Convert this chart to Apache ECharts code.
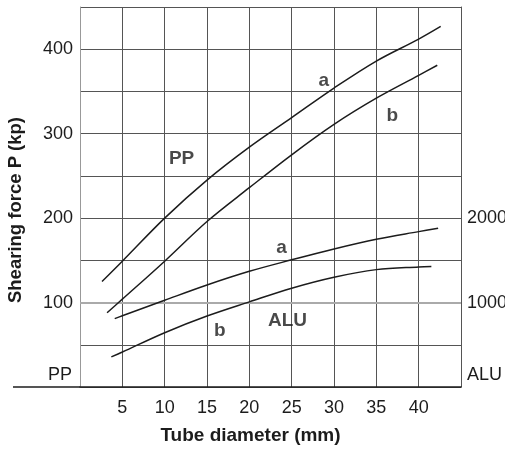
<!DOCTYPE html>
<html><head><meta charset="utf-8">
<script src="https://cdn.jsdelivr.net/npm/echarts@6/dist/echarts.min.js"></script>
<style>html,body{margin:0;padding:0;background:#fff}#c{width:505px;height:453px}</style>
</head><body><div id="c"></div>
<script>
// Data (x = tube diameter mm, y = shearing force)
var ppA = [[2.6,125],[5,149],[10,200],[15,245],[20,284],[25,319],[30,354],[35,386],[40,412],[42.6,427]];
var ppB = [[3.2,88],[5,104],[10,149],[15,196],[20,236],[25,275],[30,311],[35,342],[40,369],[42.2,381]];
var aluA = [[4.1,810],[5,843],[10,1027],[15,1208],[20,1370],[25,1506],[30,1635],[35,1750],[40,1840],[42.3,1880]];
var aluB = [[3.7,356],[5,414],[10,643],[15,840],[20,1008],[25,1170],[30,1300],[35,1390],[40,1422],[41.5,1427]];
var xTicks = [5,10,15,20,25,30,35,40];
var leftTicks = [100,200,300,400];
var rightTicks = [1000,2000];
var annotText = ['PP','a','b','a','b','ALU'];
var annotX = [12.0,28.8,36.9,23.8,16.5,24.5];
var annotY = [270,363,321,165,67,79];

var FN = "'Liberation Sans',Arial,Helvetica,sans-serif";
var TXT = '#1c1c1c';
var chart = echarts.init(document.getElementById('c'), null, {renderer:'canvas'});
function lineSeries(data, yIdx, extra) {
  var s = {type:'line', data:data, yAxisIndex:yIdx, smooth:0.35, showSymbol:false, silent:true,
    lineStyle:{color:'#1c1c1c', width:1.5}, z:5};
  if (extra) for (var k in extra) s[k] = extra[k];
  return s;
}
var annot = annotText.map(function(t,i){ return {name:t, value:[annotX[i], annotY[i]]}; });
chart.setOption({
  animation:false,
  grid:{left:80, right:44, top:7, bottom:66, outerBoundsMode:'none', containLabel:false},
  xAxis:{type:'value', min:0, max:45, interval:5,
    name:'Tube diameter (mm)', nameLocation:'middle', nameGap:39,
    nameTextStyle:{fontFamily:FN, fontWeight:'bold', fontSize:19, color:TXT, padding:[0,40,0,0]},
    axisLine:{show:true, lineStyle:{color:'#1c1c1c', width:1.5}},
    axisTick:{show:false},
    axisLabel:{margin:12, fontFamily:FN, fontSize:18, color:TXT,
      formatter:function(v){ return xTicks.indexOf(v)>=0 ? String(v) : ''; }},
    splitLine:{show:true, lineStyle:{color:'#555', width:1}}
  },
  yAxis:[{type:'value', min:0, max:450, interval:50, position:'left',
    name:'Shearing force P (kp)', nameLocation:'middle', nameGap:55,
    nameTextStyle:{fontFamily:FN, fontWeight:'bold', fontSize:18.5, color:TXT, padding:[0,26,0,0]},
    axisLine:{show:true, lineStyle:{color:'#999', width:1}},
    axisTick:{show:false},
    axisLabel:{margin:7, fontFamily:FN, fontSize:18, color:TXT,
      formatter:function(v){ return leftTicks.indexOf(v)>=0 ? String(v) : ''; }},
    splitLine:{show:true, lineStyle:{color:'#555', width:1}}
  },{type:'value', min:0, max:4500, interval:500, position:'right',
    axisLine:{show:true, lineStyle:{color:'#555', width:1}},
    axisTick:{show:false},
    axisLabel:{margin:6, fontFamily:FN, fontSize:18, color:TXT,
      formatter:function(v){ return rightTicks.indexOf(v)>=0 ? String(v) : ''; }},
    splitLine:{show:false}
  }],
  series:[
    lineSeries(ppA,0,{markLine:{silent:true, symbol:'none', label:{show:false},
      lineStyle:{color:'#aaa', width:2, type:'solid'}, data:[{yAxis:100}], z:2}}),
    lineSeries(ppB,0),
    lineSeries(aluA,1),
    lineSeries(aluB,1),
    {type:'scatter', data:annot, symbolSize:0, silent:true, z:6,
      label:{show:true, position:'inside', formatter:function(p){return p.name;},
        fontFamily:FN, fontWeight:'bold', fontSize:19, color:TXT}}
  ],
  graphic:[
    {type:'line', shape:{x1:13, y1:387, x2:80, y2:387}, style:{stroke:'#1c1c1c', lineWidth:1.5}, silent:true},
    {type:'text', x:72, y:375, style:{text:'PP', font:'18px '+FN, fill:TXT, textAlign:'right', textVerticalAlign:'middle'}, silent:true},
    {type:'text', x:467, y:375, style:{text:'ALU', font:'18px '+FN, fill:TXT, textAlign:'left', textVerticalAlign:'middle'}, silent:true}
  ]
});
</script></body></html>
